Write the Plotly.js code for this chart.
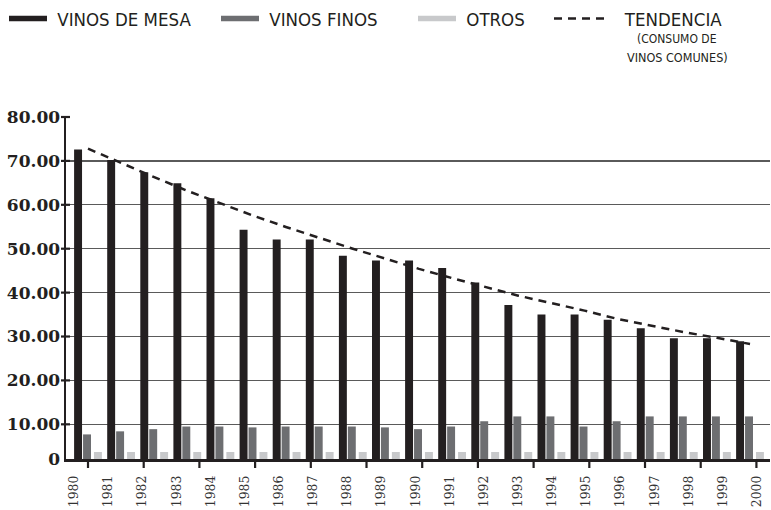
<!DOCTYPE html>
<html>
<head>
<meta charset="utf-8">
<script src="https://cdn.plot.ly/plotly-3.0.1.min.js"></script>
<style>html,body{margin:0;padding:0;background:#fff;}#chart{width:771px;height:510px;}</style>
</head>
<body>
<div id="chart"></div>
<script>
// ---- data ----
var years = [1980,1981,1982,1983,1984,1985,1986,1987,1988,1989,1990,1991,1992,1993,1994,1995,1996,1997,1998,1999,2000];
var yearLabels = ['1980','1981','1982','1983','1984','1985','1986','1987','1988','1989','1990','1991','1992','1993','1994','1995','1996','1997','1998','1999','2000'];
var vinosMesa = [72.6,70.2,67.4,64.9,61.5,54.3,52.1,52.1,48.4,47.3,47.3,45.6,42.3,37.2,35.0,35.0,33.8,31.9,29.6,29.6,28.9];
var vinosFinos = [7.7,8.4,8.9,9.5,9.5,9.3,9.5,9.5,9.5,9.3,8.9,9.5,10.7,11.8,11.8,9.5,10.7,11.8,11.8,11.8,11.8];
var otros = [3.7,3.7,3.7,3.7,3.7,3.7,3.7,3.7,3.7,3.7,3.7,3.7,3.7,3.7,3.7,3.7,3.7,3.7,3.7,3.7,3.7];
var tendencia = [72.8,69.5,66.3,63.2,60.3,57.5,54.9,52.4,50.0,47.7,45.4,43.3,41.3,39.3,37.6,35.9,34.0,32.5,31.0,29.7,28.3];
var yTickVals = [2.1,10,20,30,40,50,60,70,80];
var yTickText = ['0','10.00','20.00','30.00','40.00','50.00','60.00','70.00','80.00'];
var seriesNames = ['VINOS DE MESA','VINOS FINOS','OTROS','TENDENCIA'];
var subNote = ['(CONSUMO DE','VINOS COMUNES)'];

// ---- styles ----
var cMesa = '#231f20', cFinos = '#6d6e71', cOtros = '#c8c9cb';
var legFont = {family: 'DejaVu Sans Condensed, Liberation Sans Narrow, sans-serif', size: 18.5, color: '#231f20'};
var W = 771, H = 510, ML = 66, MR = 1, MT = 117, MB = 51;
var PW = W - ML - MR, PH = H - MT - MB;
var xRange = [1979.3353, 2000.604], yRange = [2.1, 80];
var barW = 0.24;
var NB = '\u00a0';

// tick-mark positions of the reference's bottom axis (a spacing that does not follow the categories)
var xTickMarks = [];
for (var i = 0; i < 13; i++) { xTickMarks.push(1980 + i * 1.6828); }

function legendAt(px, py, iw) {
  return {xref: 'container', yref: 'container', x: px / W, y: 1 - py / H,
          xanchor: 'left', yanchor: 'top', orientation: 'h', font: legFont,
          itemwidth: iw, bgcolor: 'rgba(0,0,0,0)', borderwidth: 0, itemclick: false};
}

// axis tick marks (decoration) in paper space so they are not clipped to the plot area
var shapes = [];
xTickMarks.forEach(function (v) {
  var xp = (v - xRange[0]) / (xRange[1] - xRange[0]);
  shapes.push({type: 'line', xref: 'paper', yref: 'paper', x0: xp, x1: xp, y0: -1 / PH, y1: -9 / PH,
               line: {color: '#231f20', width: 2.2}, layer: 'above'});
});
yTickVals.slice(1).forEach(function (v) {
  var yp = (v - yRange[0]) / (yRange[1] - yRange[0]);
  shapes.push({type: 'line', xref: 'paper', yref: 'paper', x0: -5 / PW, x1: 4 / PW, y0: yp, y1: yp,
               line: {color: '#231f20', width: 2.2}, layer: 'above'});
});

var traces = [
  {type: 'bar', x: years, y: vinosMesa, width: barW, offset: -0.42, marker: {color: cMesa}, showlegend: false, hoverinfo: 'x+y'},
  {type: 'bar', x: years, y: vinosFinos, width: barW, offset: -0.15, marker: {color: cFinos}, showlegend: false, hoverinfo: 'x+y'},
  {type: 'bar', x: years, y: otros, width: barW, offset: 0.18, marker: {color: cOtros}, showlegend: false, hoverinfo: 'x+y'},
  {type: 'scatter', mode: 'lines', x: years, y: tendencia, line: {color: cMesa, width: 2.5, dash: '8px,6px'}, showlegend: false, hoverinfo: 'x+y'},
  // legend entries
  {type: 'scatter', mode: 'lines', x: [null], y: [null], name: NB + seriesNames[0], line: {color: cMesa, width: 5.5}, legend: 'legend', hoverinfo: 'skip'},
  {type: 'scatter', mode: 'lines', x: [null], y: [null], name: NB + seriesNames[1], line: {color: cFinos, width: 5.5}, legend: 'legend2', hoverinfo: 'skip'},
  {type: 'scatter', mode: 'lines', x: [null], y: [null], name: NB + seriesNames[2], line: {color: cOtros, width: 5.5}, legend: 'legend3', hoverinfo: 'skip'},
  {type: 'scatter', mode: 'lines', x: [null], y: [null], name: NB + NB + NB + seriesNames[3], line: {color: cMesa, width: 2.5, dash: '8px,6px'}, legend: 'legend4', hoverinfo: 'skip'},
  // carrier for the year-label axis
  {type: 'scatter', mode: 'lines', x: years, y: years.map(function(){return null;}), xaxis: 'x2', showlegend: false, hoverinfo: 'skip'}
];

var layout = {
  width: W, height: H,
  margin: {l: ML, r: MR, t: MT, b: MB},
  paper_bgcolor: '#fff', plot_bgcolor: '#fff',
  barmode: 'overlay',
  showlegend: true,
  xaxis: {
    type: 'linear', range: xRange, fixedrange: true,
    showgrid: false, zeroline: false,
    showline: true, linecolor: '#231f20', linewidth: 2.5,
    ticks: '', showticklabels: false
  },
  xaxis2: {
    type: 'linear', overlaying: 'x', anchor: 'y', side: 'bottom',
    range: [1979.7657, 2000.381], fixedrange: true,
    showgrid: false, zeroline: false, showline: false,
    tickmode: 'array', tickvals: years, ticktext: yearLabels,
    ticks: '', tickangle: -90, ticklabelstandoff: 13,
    tickfont: {family: 'DejaVu Serif, Liberation Serif, serif', size: 12.5, color: '#333'}
  },
  yaxis: {
    range: yRange, fixedrange: true,
    tickmode: 'array', tickvals: yTickVals, ticktext: yTickText,
    showgrid: true, gridcolor: '#5a5a5a', gridwidth: 1.3,
    zeroline: false,
    showline: true, linecolor: '#231f20', linewidth: 2.5,
    ticks: '', ticklabelstandoff: 0,
    tickfont: {family: 'DejaVu Serif, Liberation Serif, serif', size: 17, color: '#231f20', weight: 'bold'}
  },
  shapes: shapes,
  legend: legendAt(4, 0, 38),
  legend2: legendAt(216, 0, 38),
  legend3: legendAt(413, 0, 38),
  legend4: legendAt(549, 0, 50),
  annotations: [
    {xref: 'paper', yref: 'paper', x: (677 - ML) / PW, y: 1 + (MT - 39) / PH, xanchor: 'center', yanchor: 'middle', text: subNote[0], showarrow: false, font: {family: legFont.family, size: 12, color: '#231f20'}},
    {xref: 'paper', yref: 'paper', x: (677 - ML) / PW, y: 1 + (MT - 58) / PH, xanchor: 'center', yanchor: 'middle', text: subNote[1], showarrow: false, font: {family: legFont.family, size: 12.5, color: '#231f20'}}
  ]
};

Plotly.newPlot('chart', traces, layout, {displayModeBar: false, staticPlot: true});
</script>
</body>
</html>
